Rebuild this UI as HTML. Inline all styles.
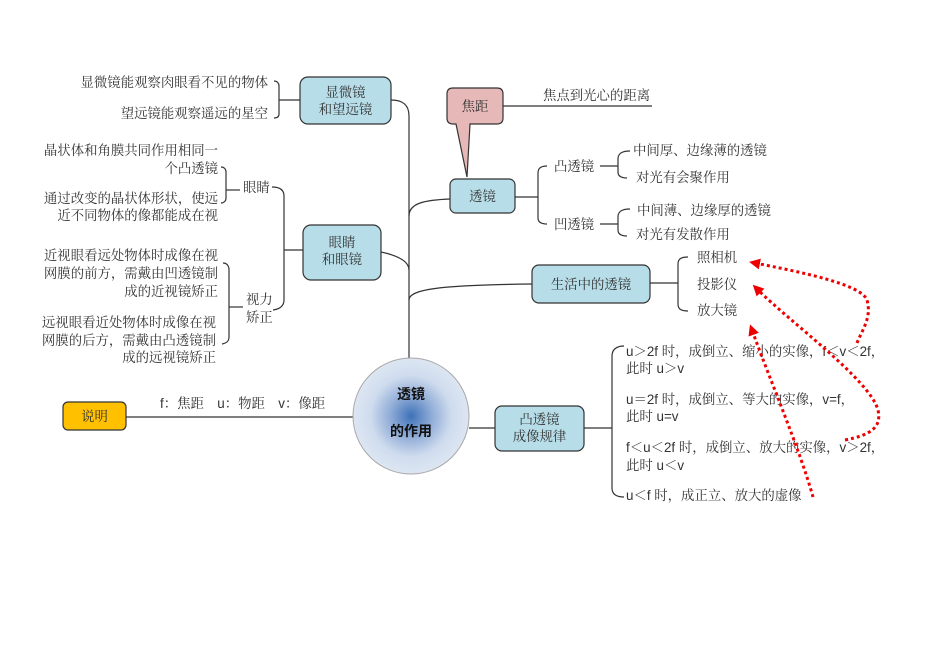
<!DOCTYPE html>
<html><head><meta charset="utf-8"><style>
html,body{margin:0;padding:0;background:#fff;}
svg{display:block;}
text{font-family:"Liberation Sans","Noto Serif CJK SC",serif;font-size:13.4px;fill:#333;}
.c{font-family:"Liberation Sans","Noto Sans CJK SC",sans-serif;font-size:14px;font-weight:bold;fill:#111;}
.b{fill:#b7dde8;stroke:#333;stroke-width:1.2;}
.l{fill:none;stroke:#333;stroke-width:1.2;}
.r{fill:none;stroke:#e00;stroke-width:3;stroke-dasharray:3 3;}
</style></head><body>
<svg width="950" height="672" viewBox="0 0 950 672" xmlns="http://www.w3.org/2000/svg">
<defs>
<radialGradient id="g" cx="50%" cy="50%" r="50%">
<stop offset="0" stop-color="#3e72b8"/>
<stop offset="0.35" stop-color="#8eabd6"/>
<stop offset="0.7" stop-color="#cfdcee"/>
<stop offset="1" stop-color="#dde6f2"/>
</radialGradient>
<marker id="ah" markerWidth="11" markerHeight="11" refX="5" refY="5.5" orient="auto" markerUnits="userSpaceOnUse">
<path d="M0,0 L11,5.5 L0,11 z" fill="#e00"/>
</marker>
</defs>

<!-- main vertical trunk -->
<path class="l" d="M391,100 C402,100 409,104 409,116 L409,358"/>
<path class="l" d="M450,199 C425,200 409,203 409,216"/>
<path class="l" d="M381,252 C395,255 409,260 409,270"/>
<path class="l" d="M532,284 C450,285 409,288 409,300"/>

<!-- 显微镜 box -->
<rect class="b" x="300" y="77" width="91" height="47" rx="8"/>
<text x="345.5" y="97" text-anchor="middle">显微镜</text>
<text x="345.5" y="114" text-anchor="middle">和望远镜</text>
<path class="l" d="M300,100 L279,100"/>
<path class="l" d="M274,81 C277,81 279,83 279,86 L279,114 C279,117 277,118 274,118"/>
<text x="268" y="87" text-anchor="end">显微镜能观察肉眼看不见的物体</text>
<text x="268" y="118" text-anchor="end">望远镜能观察遥远的星空</text>

<!-- 眼睛和眼镜 box -->
<rect class="b" x="303" y="225" width="78" height="55" rx="8"/>
<text x="342" y="247" text-anchor="middle">眼睛</text>
<text x="342" y="264" text-anchor="middle">和眼镜</text>
<path class="l" d="M303,250 L284,250"/>
<path class="l" d="M272,187 C280,187 284,190 284,196 L284,300 C284,306 280,309 273,310"/>
<text x="243" y="192">眼睛</text>
<text x="246" y="304">视力</text>
<text x="246" y="322">矫正</text>

<!-- 眼睛 bracket -->
<path class="l" d="M221,167 C224,167 226,169 226,172 L226,198 C226,201 224,203 221,203"/>
<path class="l" d="M226,190 L240,190"/>
<text x="218" y="155" text-anchor="end">晶状体和角膜共同作用相同一</text>
<text x="218" y="173" text-anchor="end">个凸透镜</text>
<text x="218" y="203" text-anchor="end">通过改变的晶状体形状，使远</text>
<text x="218" y="220" text-anchor="end">近不同物体的像都能成在视</text>

<!-- 视力矫正 bracket -->
<path class="l" d="M223,263 C227,263 229,266 229,270 L229,337 C229,341 227,343 222,344"/>
<path class="l" d="M229,307 L243,307"/>
<text x="218" y="260" text-anchor="end">近视眼看远处物体时成像在视</text>
<text x="218" y="278" text-anchor="end">网膜的前方，需戴由凹透镜制</text>
<text x="218" y="296" text-anchor="end">成的近视镜矫正</text>
<text x="216" y="327" text-anchor="end">远视眼看近处物体时成像在视</text>
<text x="216" y="345" text-anchor="end">网膜的后方，需戴由凸透镜制</text>
<text x="216" y="362" text-anchor="end">成的远视镜矫正</text>

<!-- 说明 -->
<path class="l" d="M126,417 L353,417"/>
<rect x="63" y="402" width="63" height="28" rx="5" fill="#ffc000" stroke="#333" stroke-width="1.2"/>
<text x="94.5" y="421" text-anchor="middle">说明</text>
<text x="160" y="408">f：焦距　u：物距　v：像距</text>

<!-- center circle -->
<circle cx="411" cy="416" r="58" fill="url(#g)" stroke="#a8a8a8" stroke-width="1"/>
<text class="c" x="411" y="399" text-anchor="middle">透镜</text>
<text class="c" x="411" y="436" text-anchor="middle">的作用</text>

<!-- 焦距 callout -->
<path d="M455,88 L497,88 Q503,88 503,94 L503,118 Q503,124 497,124 L470,124 L467,177 L456,124 L453,124 Q447,124 447,118 L447,94 Q447,88 453,88 Z" fill="#e6b8b7" stroke="#333" stroke-width="1.2"/>
<text x="475" y="111" text-anchor="middle">焦距</text>
<path class="l" d="M503,106 L652,106"/>
<text x="543" y="100">焦点到光心的距离</text>

<!-- 透镜 box -->
<rect class="b" x="450" y="179" width="65" height="34" rx="6"/>
<text x="482.5" y="201" text-anchor="middle">透镜</text>
<path class="l" d="M515,197 L538,197"/>
<path class="l" d="M547,166 C541,166 538,168 538,173 L538,218 C538,222 541,224 547,224"/>
<text x="554" y="171">凸透镜</text>
<text x="554" y="229">凹透镜</text>
<path class="l" d="M600,166 L618,166"/>
<path class="l" d="M630,151 C621,151 618,154 618,159 L618,172 C618,176 621,178 627,178"/>
<text x="633" y="155">中间厚、边缘薄的透镜</text>
<text x="636" y="182">对光有会聚作用</text>
<path class="l" d="M600,224 L618,224"/>
<path class="l" d="M630,209 C621,209 618,212 618,217 L618,230 C618,234 621,236 627,236"/>
<text x="637" y="215">中间薄、边缘厚的透镜</text>
<text x="636" y="239">对光有发散作用</text>

<!-- 生活中的透镜 -->
<rect class="b" x="532" y="265" width="118" height="38" rx="7"/>
<text x="591" y="289" text-anchor="middle">生活中的透镜</text>
<path class="l" d="M650,283 L678,283"/>
<path class="l" d="M688,257 C681,257 678,259 678,264 L678,304 C678,309 681,311 688,311"/>
<text x="697" y="262">照相机</text>
<text x="697" y="289">投影仪</text>
<text x="697" y="315">放大镜</text>

<!-- 凸透镜成像规律 -->
<path class="l" d="M469,428 L495,428"/>
<rect class="b" x="495" y="406" width="89" height="45" rx="7"/>
<text x="539.5" y="424" text-anchor="middle">凸透镜</text>
<text x="539.5" y="441" text-anchor="middle">成像规律</text>
<path class="l" d="M584,428 L612,428"/>
<path class="l" d="M624,346 C616,346 612,350 612,356 L612,488 C612,494 616,497 624,497"/>
<text x="626" y="356">u＞2f 时，成倒立、缩小的实像，f＜v＜2f，</text>
<text x="626" y="373">此时 u＞v</text>
<text x="626" y="404">u＝2f 时，成倒立、等大的实像，v=f，</text>
<text x="626" y="421">此时 u=v</text>
<text x="626" y="452">f＜u＜2f 时，成倒立、放大的实像，v＞2f，</text>
<text x="626" y="470">此时 u＜v</text>
<text x="626" y="500">u＜f 时，成正立、放大的虚像</text>

<!-- red dotted arrows -->
<path class="r" marker-end="url(#ah)" d="M857,343 C862,330 872,318 867,300 C861,284 800,272 755,263"/>
<path class="r" marker-end="url(#ah)" d="M845,440 C870,435 882,428 878,410 C870,380 790,322 757,289"/>
<path class="r" marker-end="url(#ah)" d="M813,497 C800,450 770,380 752,330"/>
</svg>
</body></html>
